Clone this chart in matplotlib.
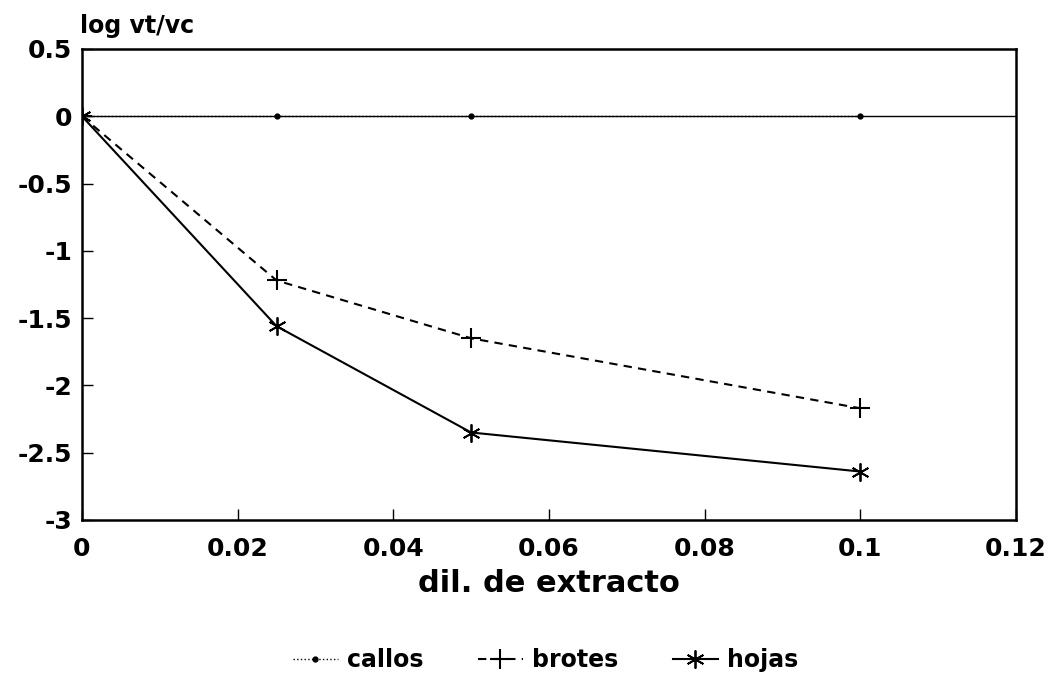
import matplotlib
matplotlib.use('Agg')
import matplotlib.pyplot as plt

# datos
dil = [0, 0.025, 0.05, 0.1]
callos = [0, 0, 0, 0]
brotes = [0, -1.22, -1.65, -2.17]
hojas = [0, -1.56, -2.35, -2.64]

plt.rcParams['font.family'] = ['DejaVu Sans']
plt.rcParams['font.weight'] = 'bold'

fig = plt.figure(figsize=(10.47, 6.84), dpi=100)
ax = fig.add_axes([0.0783, 0.2398, 0.8921, 0.6886])

ax.axhline(0, color='black', lw=1.0, zorder=1)
ax.plot(dil, callos, color='black', ls=':', lw=1.0, marker='o', ms=3.5, label='callos')
ax.plot(dil, brotes, color='black', ls=(0, (4, 3)), lw=1.5, marker='+', ms=14, mew=1.5, label='brotes')
ax.plot(dil, hojas, color='black', ls='-', lw=1.5, marker=(6, 2, 0), ms=13, mew=1.3, label='hojas')

ax.set_xlim(0, 0.12)
ax.set_ylim(-3, 0.5)
ax.set_xticks([0, 0.02, 0.04, 0.06, 0.08, 0.1, 0.12])
ax.set_xticklabels(['0', '0.02', '0.04', '0.06', '0.08', '0.1', '0.12'])
ax.set_yticks([0.5, 0, -0.5, -1, -1.5, -2, -2.5, -3])
ax.set_yticklabels(['0.5', '0', '-0.5', '-1', '-1.5', '-2', '-2.5', '-3'])
ax.tick_params(direction='in', length=8, width=1, labelsize=18)
ax.tick_params(axis='x', pad=12)
ax.tick_params(axis='y', pad=7)
for lab in ax.get_xticklabels() + ax.get_yticklabels():
    lab.set_fontweight('bold')
for s in ax.spines.values():
    s.set_linewidth(1.8)

ax.set_xlabel('dil. de extracto', fontsize=22, fontweight='bold', labelpad=6)
fig.text(0.076, 0.945, 'log vt/vc', fontsize=17, fontweight='bold', ha='left', va='bottom')

leg = fig.legend(loc='center', bbox_to_anchor=(0.521, 0.035), ncol=3, frameon=False,
                 fontsize=17, handlelength=1.9, columnspacing=2.3, handletextpad=0.4)
for t in leg.get_texts():
    t.set_fontweight('bold')

fig.savefig('out.png', dpi=100)
